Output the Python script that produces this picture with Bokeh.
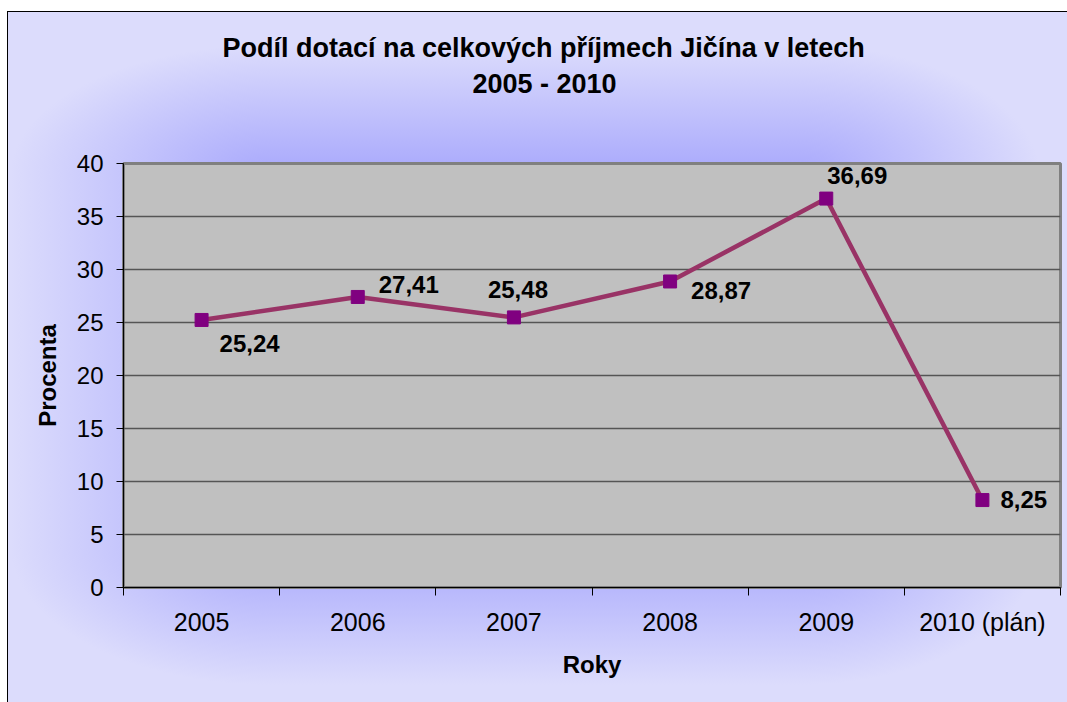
from bokeh.plotting import figure
from bokeh.models import Range1d, FixedTicker, Title, ColumnDataSource
from bokeh.core.properties import value
from bokeh.embed import file_html
from bokeh.resources import INLINE

# ---- data ----
years = ["2005", "2006", "2007", "2008", "2009", "2010 (plán)"]
podil = [25.24, 27.41, 25.48, 28.87, 36.69, 8.25]
y_ticks = [0, 5, 10, 15, 20, 25, 30, 35, 40]
title_lines = ["Podíl dotací na celkových příjmech Jičína v letech", "2005 - 2010"]
x_title = "Roky"
y_title = "Procenta"

# ---- label placement (screen pixels, styling only) ----
lab_dx = [18, 21, -26, 21, 1, 18]
lab_dy = [24, -12, -28, 9, -23, -1]

FONT = "Liberation Sans"

xs = [i + 0.5 for i in range(len(years))]
src = ColumnDataSource(dict(
    x=xs, y=podil,
    txt=[f"{v:.2f}".replace(".", ",") for v in podil],
    dx=lab_dx, dy=lab_dy,
))

W, H = 1067, 702
G = "#a8a8fc"
T = "rgba(168,168,252,0)"
bg_layers = [
    "linear-gradient(#000,#000) 7px 11px / 100% 1px no-repeat",
    "linear-gradient(#000,#000) 7px 11px / 1px 100% no-repeat",
    "linear-gradient(#fff,#fff) 0px 0px / 100% 11px no-repeat",
    "linear-gradient(#fff,#fff) 0px 0px / 7px 100% no-repeat",
    f"linear-gradient({G},{G}) 270px 175px / 530px 370px no-repeat",
    f"linear-gradient(to top,{G},{T}) 270px 45px / 530px 130px no-repeat",
    f"linear-gradient(to bottom,{G},{T}) 270px 545px / 530px 140px no-repeat",
    f"linear-gradient(to left,{G},{T}) 10px 175px / 260px 370px no-repeat",
    f"linear-gradient(to right,{G},{T}) 800px 175px / 240px 370px no-repeat",
    f"radial-gradient(260px 130px at 100% 100%,{G},{T}) 10px 45px / 260px 130px no-repeat",
    f"radial-gradient(240px 130px at 0% 100%,{G},{T}) 800px 45px / 240px 130px no-repeat",
    f"radial-gradient(260px 140px at 100% 0%,{G},{T}) 10px 545px / 260px 140px no-repeat",
    f"radial-gradient(240px 140px at 0% 0%,{G},{T}) 800px 545px / 240px 140px no-repeat",
    "#dcdcfc",
]

p = figure(width=W, height=H, x_range=Range1d(0, len(years)), y_range=Range1d(0, 40),
           output_backend="svg", toolbar_location=None, title=None,
           min_border_left=123, min_border_right=7, min_border_top=163, min_border_bottom=115,
           styles={"background": ", ".join(bg_layers)})

p.border_fill_color = None
p.background_fill_color = "#c0c0c0"
p.outline_line_color = "#808080"
p.outline_line_width = 3

# titles: stacked upward from the plot (first added is nearest the plot)
title_style = dict(align="left", text_font=FONT, text_font_size="27px",
                   text_font_style="bold")
p.add_layout(Title(text=".", standoff=42, text_alpha=0.01, text_color="#a8a8fc",
                   **title_style), "above")
p.add_layout(Title(text=title_lines[1], standoff=4, offset=349, text_color="black",
                   **title_style), "above")
p.add_layout(Title(text=title_lines[0], standoff=4, offset=99, text_color="black",
                   **title_style), "above")

# grid
p.xgrid.visible = False
p.ygrid.ticker = FixedTicker(ticks=y_ticks)
p.ygrid.grid_line_color = "#555555"
p.ygrid.grid_line_width = 1.5

# x axis
xa = p.xaxis[0]
xa.ticker = FixedTicker(ticks=xs, minor_ticks=list(range(len(years) + 1)))
xa.major_label_overrides = {x: lab for x, lab in zip(xs, years)}
xa.major_tick_line_color = None
xa.major_tick_out = 0
xa.major_tick_in = 0
xa.minor_tick_line_color = "black"
xa.minor_tick_out = 8
xa.minor_tick_in = 0
xa.axis_line_color = "black"
xa.major_label_text_font = FONT
xa.major_label_text_font_size = "25px"
xa.major_label_text_color = "black"
xa.major_label_standoff = 12
xa.axis_label = x_title
xa.axis_label_text_font = FONT
xa.axis_label_text_font_size = "24px"
xa.axis_label_text_font_style = "bold"
xa.axis_label_text_color = "black"
xa.axis_label_standoff = 12

# y axis
ya = p.yaxis[0]
ya.ticker = FixedTicker(ticks=y_ticks)
ya.minor_tick_line_color = None
ya.major_tick_out = 7
ya.major_tick_in = 0
ya.major_tick_line_color = "black"
ya.axis_line_color = "black"
ya.major_label_text_font = FONT
ya.major_label_text_font_size = "24px"
ya.major_label_text_color = "black"
ya.major_label_standoff = 13
ya.axis_label = y_title
ya.axis_label_text_font = FONT
ya.axis_label_text_font_size = "24px"
ya.axis_label_text_font_style = "bold"
ya.axis_label_text_color = "black"
ya.axis_label_standoff = 13

# series
p.line("x", "y", source=src, line_color="#993366", line_width=4.5)
p.scatter("x", "y", source=src, marker="square", size=13,
          fill_color="#800080", line_color="#800080")
p.text("x", "y", text="txt", source=src, x_offset="dx", y_offset="dy",
       text_font=value(FONT), text_font_size="24px", text_font_style="bold",
       text_color="black", text_align="left", text_baseline="middle")

open("out.html", "w").write(file_html(p, INLINE))
